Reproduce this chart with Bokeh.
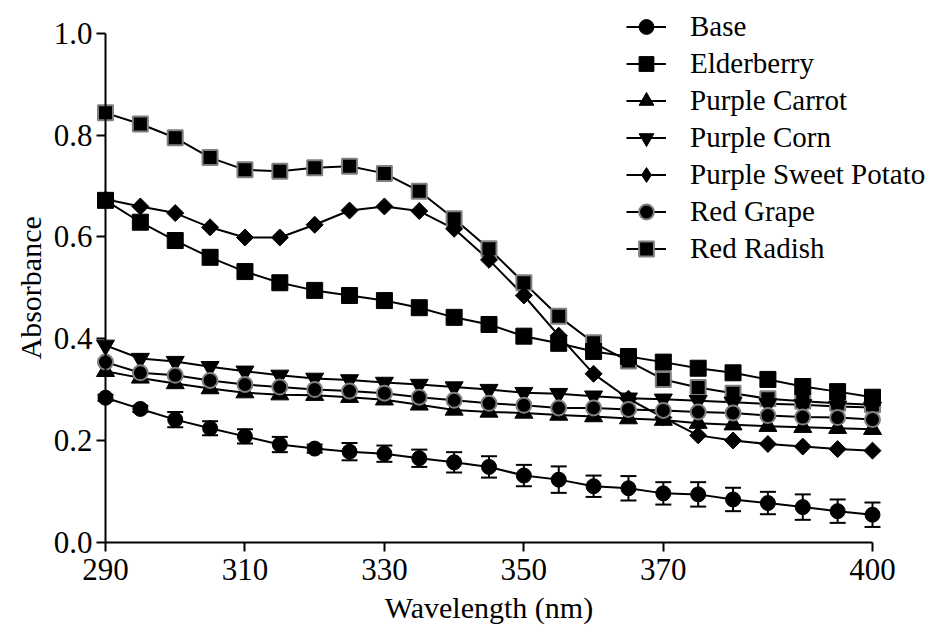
import numpy as np
from bokeh.plotting import figure
from bokeh.models import (Range1d, FixedTicker, Legend, LegendItem, Whisker, TeeHead,
                          ColumnDataSource, Label, CustomJSTickFormatter)
from bokeh.embed import file_html
from bokeh.resources import INLINE

# ---------------- data ----------------
wavelength = [290, 295, 300, 305, 310, 315, 320, 325, 330, 335, 340, 345,
              350, 355, 360, 365, 370, 375, 380, 385, 390, 395, 400]

base = [0.284, 0.262, 0.241, 0.224, 0.208, 0.192, 0.184, 0.178, 0.174, 0.165, 0.157, 0.148,
        0.131, 0.123, 0.110, 0.106, 0.096, 0.094, 0.084, 0.077, 0.069, 0.061, 0.054]
base_sd = [0.006, 0.006, 0.015, 0.014, 0.014, 0.015, 0.008, 0.017, 0.016, 0.017, 0.020, 0.021,
           0.021, 0.026, 0.021, 0.024, 0.022, 0.024, 0.023, 0.022, 0.025, 0.023, 0.024]
elderberry = [0.672, 0.629, 0.593, 0.560, 0.532, 0.510, 0.495, 0.485, 0.475, 0.461, 0.442, 0.428,
              0.405, 0.391, 0.375, 0.365, 0.354, 0.342, 0.333, 0.320, 0.306, 0.296, 0.285]
purple_carrot = [0.336, 0.323, 0.312, 0.302, 0.294, 0.290, 0.289, 0.285, 0.280, 0.270, 0.260, 0.256,
                 0.254, 0.250, 0.247, 0.243, 0.240, 0.234, 0.231, 0.228, 0.226, 0.224, 0.222]
purple_corn = [0.387, 0.361, 0.355, 0.345, 0.336, 0.328, 0.322, 0.319, 0.314, 0.310, 0.305, 0.300,
               0.294, 0.292, 0.287, 0.283, 0.281, 0.278, 0.275, 0.272, 0.270, 0.267, 0.265]
purple_sweet_potato = [0.674, 0.660, 0.647, 0.619, 0.599, 0.599, 0.624, 0.652, 0.660, 0.651, 0.616, 0.555,
                       0.485, 0.406, 0.331, 0.282, 0.245, 0.210, 0.200, 0.193, 0.188, 0.183, 0.180]
red_grape = [0.354, 0.333, 0.328, 0.318, 0.310, 0.305, 0.300, 0.297, 0.293, 0.285, 0.279, 0.273,
             0.269, 0.264, 0.264, 0.261, 0.259, 0.256, 0.254, 0.249, 0.246, 0.245, 0.241]
red_radish = [0.844, 0.822, 0.795, 0.756, 0.732, 0.729, 0.736, 0.739, 0.725, 0.690, 0.636, 0.577,
              0.510, 0.444, 0.392, 0.356, 0.320, 0.304, 0.293, 0.282, 0.277, 0.273, 0.270]

x_ticks = [290, 310, 330, 350, 370, 400]
y_ticks = [0.0, 0.2, 0.4, 0.6, 0.8, 1.0]

# ---------------- layout (pixel geometry of the canvas) ----------------
FONT = "Liberation Serif"
W, H = 927, 625
X_AT_290, X_AT_400 = 105.0, 872.0
Y_AT_0, Y_AT_1 = 541.7, 33.0
kx = (X_AT_400 - X_AT_290) / 110.0
ky = (Y_AT_0 - Y_AT_1)
x0 = 290 - X_AT_290 / kx
x1 = x0 + W / kx
y0 = -(H - Y_AT_0) / ky
y1 = y0 + H / ky

p = figure(width=W, height=H, output_backend="svg", toolbar_location=None,
           x_range=Range1d(x0, x1), y_range=Range1d(y0, y1),
           min_border_left=0, min_border_right=0, min_border_top=0,
           min_border_bottom=0, background_fill_color="white",
           border_fill_color="white")
p.outline_line_color = None
p.grid.visible = False

for ax in (p.xaxis[0], p.yaxis[0]):
    ax.axis_line_width = 2
    ax.axis_line_color = "black"
    ax.major_tick_line_width = 2
    ax.major_tick_line_color = "black"
    ax.major_tick_out = 9
    ax.major_tick_in = 0
    ax.minor_tick_line_color = None
    ax.major_label_text_font = FONT
    ax.major_label_text_font_size = "31px"
    ax.major_label_text_color = "black"

p.xaxis.ticker = FixedTicker(ticks=x_ticks)
p.xaxis.bounds = (290, 400)
p.xaxis.fixed_location = 0
p.xaxis.major_label_standoff = 8
p.yaxis.ticker = FixedTicker(ticks=y_ticks)
p.yaxis.bounds = (0, 1)
p.yaxis.fixed_location = 290
p.yaxis.major_label_standoff = 4
p.yaxis.formatter = CustomJSTickFormatter(code="return tick.toFixed(1);")

series = [
    ("Base", base, "circle", 15, "black", 0),
    ("Elderberry", elderberry, "square", 16, "black", 0),
    ("Purple Carrot", purple_carrot, "triangle", 18, "black", 0),
    ("Purple Corn", purple_corn, "inverted_triangle", 18, "black", 0),
    ("Purple Sweet Potato", purple_sweet_potato, "square", 12, "black", np.pi / 4),
    ("Red Grape", red_grape, "circle", 15, "#808080", 0),
    ("Red Radish", red_radish, "square", 15, "#808080", 0),
]
lookup = {s[0]: s for s in series}

lines = {}
for name, vals, *_ in series:
    lines[name] = p.line(wavelength, vals, line_color="black", line_width=2)

# error bars for Base
err_src = ColumnDataSource(dict(x=wavelength,
                                upper=[b + s for b, s in zip(base, base_sd)],
                                lower=[b - s for b, s in zip(base, base_sd)]))
wh = Whisker(base="x", upper="upper", lower="lower", source=err_src,
             line_color="black", line_width=2,
             upper_head=TeeHead(size=16, line_width=2, line_color="black"),
             lower_head=TeeHead(size=16, line_width=2, line_color="black"))
p.add_layout(wh)

# diamond used as the legend symbol of Purple Sweet Potato (hidden under the rotated squares)
psp_legend_mark = p.scatter(wavelength, purple_sweet_potato, marker="diamond", size=15,
                            fill_color="black", line_color="black")

marks = {}
draw_order = ["Red Radish", "Purple Sweet Potato", "Elderberry", "Purple Carrot",
              "Purple Corn", "Red Grape", "Base"]
for name in draw_order:
    _, vals, marker, size, outline, ang = lookup[name]
    marks[name] = p.scatter(wavelength, vals, marker=marker, size=size, angle=ang,
                            fill_color="black", line_color=outline,
                            line_width=2 if outline != "black" else 1)

items = []
for s in series:
    mk = psp_legend_mark if s[0] == "Purple Sweet Potato" else marks[s[0]]
    items.append(LegendItem(label=s[0], renderers=[lines[s[0]], mk]))

legend = Legend(items=items, location=(626, 625 - 8 - 7 * 37),
                label_text_font=FONT, label_text_font_size="29px",
                label_text_color="black",
                glyph_width=40, glyph_height=37, label_height=37,
                spacing=0, padding=0, margin=0, label_standoff=24,
                border_line_color=None, background_fill_alpha=0)
p.add_layout(legend)

p.add_layout(Label(x=345, y=-(607 - Y_AT_0) / ky, text="Wavelength (nm)",
                   text_font=FONT, text_font_size="30px", text_align="center",
                   text_baseline="middle", text_color="black"))
p.add_layout(Label(x=290 - (X_AT_290 - 30) / kx, y=0.5, text="Absorbance", angle=np.pi / 2,
                   text_font=FONT, text_font_size="30px", text_align="center",
                   text_baseline="middle", text_color="black"))

open("out.html", "w").write(file_html(p, INLINE))
